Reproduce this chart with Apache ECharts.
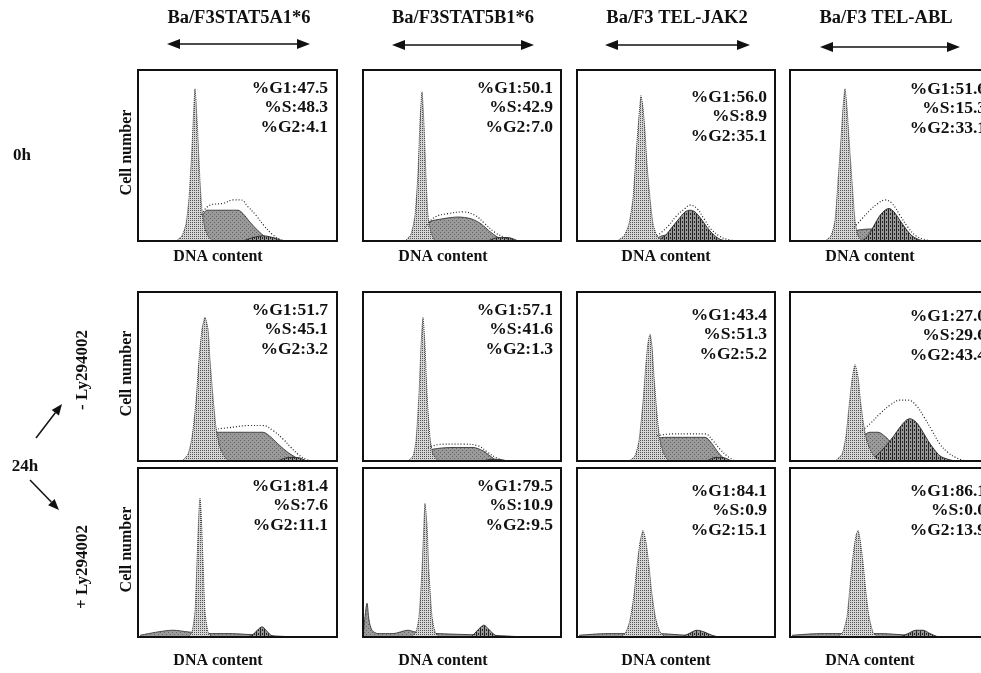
<!DOCTYPE html>
<html><head><meta charset="utf-8">
<script src="https://cdn.jsdelivr.net/npm/echarts@6/dist/echarts.min.js"></script>
<style>html,body{margin:0;padding:0;background:#fff}#c{width:981px;height:673px}</style>
</head><body><div id="c"></div>
<script>
// ---------- DATA ----------
const columnTitles = ['Ba/F3STAT5A1*6', 'Ba/F3STAT5B1*6', 'Ba/F3 TEL-JAK2', 'Ba/F3 TEL-ABL'];
const rowTimeLabels = ['0h', '24h'];
const treatmentLabels = ['- Ly294002', '+ Ly294002'];
const yAxisName = 'Cell number';
const xAxisName = 'DNA content';
const pctG1 = [[47.5, 50.1, 56.0, 51.6], [51.7, 57.1, 43.4, 27.0], [81.4, 79.5, 84.1, 86.1]];
const pctS  = [[48.3, 42.9, 8.9, 15.3], [45.1, 41.6, 51.3, 29.6], [7.6, 10.9, 0.9, 0.0]];
const pctG2 = [[4.1, 7.0, 35.1, 33.1], [3.2, 1.3, 5.2, 43.4], [11.1, 9.5, 15.1, 13.9]];

// histogram curves per panel (row-major), [DNA channel, relative cell count %]
const g1Peaks = [
  [[38,0],[44,3],[48,10],[51,25],[54,55],[56,80],[57,89],[58,82],[60,60],[62,35],[64,18],[67,7],[71,2],[76,0]],
  [[42,0],[48,4],[52,15],[55,40],[57,70],[59,87],[61,68],[63,38],[65,15],[68,5],[72,0]],
  [[40,0],[47,3],[52,10],[56,25],[59,50],[61,66],[63,80],[64,85],[66,78],[68,64],[70,45],[73,25],[76,10],[80,3],[85,0]],
  [[35,0],[41,3],[45,12],[48,35],[51,60],[53,78],[55,89],[57,78],[59,60],[62,35],[65,12],[68,3],[72,0]],
  [[44,0],[50,4],[54,14],[58,35],[61,60],[64,78],[67,85],[70,78],[72,60],[75,38],[78,20],[82,8],[87,2],[92,0]],
  [[45,0],[50,3],[53,12],[56,40],[58,68],[60,85],[62,68],[64,40],[67,14],[70,4],[75,0]],
  [[52,0],[58,3],[62,12],[66,35],[69,58],[71,70],[73,75],[75,68],[77,50],[80,28],[83,12],[87,4],[92,0]],
  [[45,0],[52,4],[56,15],[59,32],[62,48],[65,57],[68,50],[70,38],[73,24],[76,14],[80,7],[85,2],[90,0]],
  [[50,0],[54,3],[57,15],[59,45],[61,75],[62,82],[63,75],[65,45],[67,15],[70,3],[74,0]],
  [[48,0],[53,3],[56,12],[59,40],[61,68],[62,79],[64,66],[66,38],[69,12],[72,3],[76,0]],
  [[44,0],[49,3],[53,10],[57,25],[60,42],[63,56],[66,63],[69,56],[72,42],[75,25],[79,10],[83,3],[88,0]],
  [[48,0],[53,3],[57,12],[60,30],[63,48],[66,60],[68,63],[70,58],[73,44],[76,26],[79,12],[83,3],[88,0]]
];
const sPhase = [
  [[52,0],[58,6],[64,14],[69,18],[80,18],[100,18],[105,16],[112,11],[120,6],[128,2],[134,0]],
  [[52,0],[58,5],[66,11],[80,13],[95,14],[108,13],[118,10],[128,5],[138,1],[144,0]],
  [[75,0],[85,3],[100,4],[120,4],[135,2],[145,0]],
  [[50,0],[58,4],[65,6],[80,7],[95,6],[110,4],[120,1],[126,0]],
  [[62,0],[68,6],[74,13],[80,17],[100,17],[125,17],[133,14],[142,9],[150,5],[158,2],[164,0]],
  [[55,0],[62,5],[70,7],[90,8],[110,8],[120,6],[127,3],[134,0]],
  [[68,0],[74,7],[80,13],[90,14],[110,14],[128,14],[134,11],[140,6],[146,2],[152,0]],
  [[58,0],[65,8],[72,14],[80,17],[88,17],[96,14],[104,9],[112,4],[120,0]],
  [[2,1],[20,3],[35,4],[50,3],[70,2],[90,2],[110,1.5],[140,0.5],[160,0]],
  [[0,0],[2,12],[4,20],[6,10],[9,4],[15,2],[30,2],[45,4],[52,3],[75,2],[100,1.5],[130,1],[160,0]],
  [[2,1],[30,2],[50,2],[80,2],[110,1],[150,0]],
  [[2,1],[30,2],[50,2],[90,2],[120,1],[160,0]]
];
const g2Peaks = [
  [[105,0],[115,2],[125,3],[135,2],[145,0]],
  [[125,0],[135,2],[145,2],[155,0]],
  [[80,0],[88,3],[95,8],[102,13],[108,17],[113,18],[118,17],[124,13],[130,8],[136,4],[143,1],[150,0]],
  [[72,0],[78,3],[84,9],[90,15],[95,18],[99,19],[104,17],[110,12],[116,7],[122,3],[128,1],[134,0]],
  [[140,0],[150,2],[160,2],[168,0]],
  [[120,0],[128,1],[136,1],[144,0]],
  [[130,0],[138,2],[146,2],[154,0]],
  [[80,0],[88,4],[96,9],[104,15],[110,20],[116,24],[120,25],[126,23],[132,18],[138,12],[144,7],[150,3],[158,1],[165,0]],
  [[110,0],[116,2],[121,5],[124,6],[128,4],[133,1],[138,0]],
  [[108,0],[113,3],[118,6],[121,7],[125,5],[130,2],[135,0]],
  [[105,0],[112,2],[120,4],[127,3],[135,1],[142,0]],
  [[110,0],[118,2],[126,4],[133,4],[140,2],[148,0]]
];
const fitEnvelopes = [
  [[62,14],[72,21],[85,22],[95,24],[103,24],[110,20],[118,15],[126,9],[134,4],[142,1],[150,0]],
  [[62,8],[72,14],[85,16],[100,17],[112,15],[122,10],[132,5],[142,2],[152,0]],
  [[80,3],[90,8],[100,15],[108,19],[113,21],[120,19],[127,13],[134,7],[142,3],[150,1],[160,0]],
  [[64,8],[72,13],[80,18],[88,22],[95,24],[102,22],[110,15],[118,8],[126,3],[134,1],[142,0]],
  [[80,19],[95,20],[110,21],[125,21],[135,18],[145,13],[153,8],[160,4],[168,1],[175,0]],
  [[65,8],[80,10],[100,10],[115,9],[125,5],[133,2],[140,0]],
  [[80,15],[95,16],[110,16],[128,16],[136,12],[143,7],[150,3],[158,0]],
  [[70,17],[80,22],[90,28],[100,33],[110,36],[118,36],[126,33],[134,26],[142,18],[150,10],[158,5],[166,2],[175,0]],
  [], [], [], []
];

// ---------- LAYOUT ----------
const colLeft = [138, 363, 577, 790];
const colWidth = [199, 198, 198, 191];
const colBorderWidth = [199, 198, 198, 215];
const rowTop = [70, 292, 468];
const rowHeight = [171, 169, 169];
const textRight = [328, 553, 767, 986];
const textDrop = [[0,0,9,1],[0,0,5,6],[0,0,5,5]];
const SERIF = '"Liberation Serif", "DejaVu Serif", serif';

function makePattern(kind) {
  const cv = document.createElement('canvas');
  cv.width = 4; cv.height = 4;
  const ctx = cv.getContext('2d');
  if (kind === 'g1') {
    ctx.fillStyle = '#d6d6d6'; ctx.fillRect(0,0,4,4);
    ctx.fillStyle = '#555'; ctx.fillRect(0,0,1,1); ctx.fillRect(2,2,1,1); ctx.fillRect(0,2,1,1); ctx.fillRect(2,0,1,1);
  } else if (kind === 'g2') {
    ctx.fillStyle = '#999'; ctx.fillRect(0,0,4,4);
    ctx.fillStyle = '#222'; ctx.fillRect(0,0,1,4); ctx.fillRect(2,1,1,2);
  } else {
    ctx.fillStyle = '#9a9a9a'; ctx.fillRect(0,0,4,4);
    ctx.fillStyle = '#666'; ctx.fillRect(0,0,1,1); ctx.fillRect(2,2,1,1);
  }
  return {image: cv, repeat: 'repeat'};
}
const patG1 = makePattern('g1'), patG2 = makePattern('g2'), patS = makePattern('s');

const grids = [], xAxes = [], yAxes = [], series = [], graphics = [];
for (let r = 0; r < 3; r++) {
  for (let c = 0; c < 4; c++) {
    const i = r * 4 + c;
    grids.push({left: colLeft[c], top: rowTop[r], width: colWidth[c], height: rowHeight[r],
      show: true, borderWidth: 0, backgroundColor: '#fff', containLabel: false});
    graphics.push({type: 'rect', z: 90, shape: {x: colLeft[c], y: rowTop[r], width: colBorderWidth[c], height: rowHeight[r]},
      style: {fill: null, stroke: '#111', lineWidth: 2}});
    xAxes.push({type: 'value', gridIndex: i, min: 0, max: colWidth[c], show: false});
    yAxes.push({type: 'value', gridIndex: i, min: 0, max: 100, show: false});
    series.push({type: 'line', xAxisIndex: i, yAxisIndex: i, data: sPhase[i], symbol: 'none', smooth: 0.3,
      lineStyle: {color: '#444', width: 1}, areaStyle: {color: patS, opacity: 1}, z: 2});
    series.push({type: 'line', xAxisIndex: i, yAxisIndex: i, data: g2Peaks[i], symbol: 'none', smooth: 0.3,
      lineStyle: {color: '#333', width: 1}, areaStyle: {color: patG2, opacity: 1}, z: 3});
    series.push({type: 'line', xAxisIndex: i, yAxisIndex: i, data: g1Peaks[i], symbol: 'none', smooth: 0.2,
      lineStyle: {color: '#333', width: 1, type: 'dotted'}, areaStyle: {color: patG1, opacity: 1}, z: 4});
    if (fitEnvelopes[i].length) {
      series.push({type: 'line', xAxisIndex: i, yAxisIndex: i, data: fitEnvelopes[i], symbol: 'none', smooth: 0.4,
        lineStyle: {color: '#222', width: 1.2, type: [1, 2]}, z: 5});
    }
    const labs = ['%G1:' + pctG1[r][c].toFixed(1), '%S:' + pctS[r][c].toFixed(1), '%G2:' + pctG2[r][c].toFixed(1)];
    labs.forEach((t, k) => {
      graphics.push({type: 'text', z: 100, x: textRight[c], y: rowTop[r] + 18 + textDrop[r][c] + k * 19.5,
        style: {text: t, textAlign: 'right', textVerticalAlign: 'middle', font: 'bold 17.5px ' + SERIF, fill: '#111'}});
    });
    if (r !== 1) {
      graphics.push({type: 'text', z: 100, x: colLeft[c] + 80 - (c === 2 ? -9 : 0), y: rowTop[r] + rowHeight[r] + (r === 0 ? 16 : 24),
        style: {text: xAxisName, textAlign: 'center', textVerticalAlign: 'middle', font: 'bold 16px ' + SERIF, fill: '#111'}});
    }
  }
  graphics.push({type: 'text', z: 100, x: 127, y: rowTop[r] + rowHeight[r] / 2 - 3, rotation: Math.PI / 2,
    style: {text: yAxisName, textAlign: 'center', textVerticalAlign: 'middle', font: 'bold 16px ' + SERIF, fill: '#111'}});
}
const titleCenters = [239, 463, 677, 886];
const arrowSpans = [[167, 310, 44], [392, 534, 45], [605, 750, 45], [820, 960, 47]];
columnTitles.forEach((t, c) => {
  graphics.push({type: 'text', z: 100, x: titleCenters[c], y: 18,
    style: {text: t, textAlign: 'center', textVerticalAlign: 'middle', font: 'bold 18.5px ' + SERIF, fill: '#111'}});
  const [a, b, y] = arrowSpans[c];
  graphics.push({type: 'line', z: 100, shape: {x1: a + 8, y1: y, x2: b - 8, y2: y}, style: {stroke: '#111', lineWidth: 1.5}});
  graphics.push({type: 'polygon', z: 100, shape: {points: [[a, y], [a + 13, y - 5], [a + 13, y + 5]]}, style: {fill: '#111'}});
  graphics.push({type: 'polygon', z: 100, shape: {points: [[b, y], [b - 13, y - 5], [b - 13, y + 5]]}, style: {fill: '#111'}});
});
graphics.push({type: 'text', z: 100, x: 22, y: 156, style: {text: rowTimeLabels[0], textAlign: 'center', textVerticalAlign: 'middle', font: 'bold 17px ' + SERIF, fill: '#111'}});
graphics.push({type: 'text', z: 100, x: 25, y: 467, style: {text: rowTimeLabels[1], textAlign: 'center', textVerticalAlign: 'middle', font: 'bold 17px ' + SERIF, fill: '#111'}});
graphics.push({type: 'text', z: 100, x: 83, y: 370, rotation: Math.PI / 2, style: {text: treatmentLabels[0], textAlign: 'center', textVerticalAlign: 'middle', font: 'bold 17px ' + SERIF, fill: '#111'}});
graphics.push({type: 'text', z: 100, x: 83, y: 567, rotation: Math.PI / 2, style: {text: treatmentLabels[1], textAlign: 'center', textVerticalAlign: 'middle', font: 'bold 17px ' + SERIF, fill: '#111'}});
function arrow(x1, y1, x2, y2) {
  const ang = Math.atan2(y2 - y1, x2 - x1), L = 11, W = 4.5;
  const bx = x2 - L * Math.cos(ang), by = y2 - L * Math.sin(ang);
  graphics.push({type: 'line', z: 100, shape: {x1, y1, x2: bx, y2: by}, style: {stroke: '#111', lineWidth: 1.5}});
  graphics.push({type: 'polygon', z: 100, shape: {points: [[x2, y2], [bx - W * Math.sin(ang), by + W * Math.cos(ang)], [bx + W * Math.sin(ang), by - W * Math.cos(ang)]]}, style: {fill: '#111'}});
}
arrow(36, 438, 62, 404);
arrow(30, 480, 59, 510);

const chart = echarts.init(document.getElementById('c'), null, {renderer: 'canvas'});
chart.setOption({
  animation: false,
  backgroundColor: '#fff',
  grid: grids, xAxis: xAxes, yAxis: yAxes, series: series, graphic: graphics
});
</script></body></html>
